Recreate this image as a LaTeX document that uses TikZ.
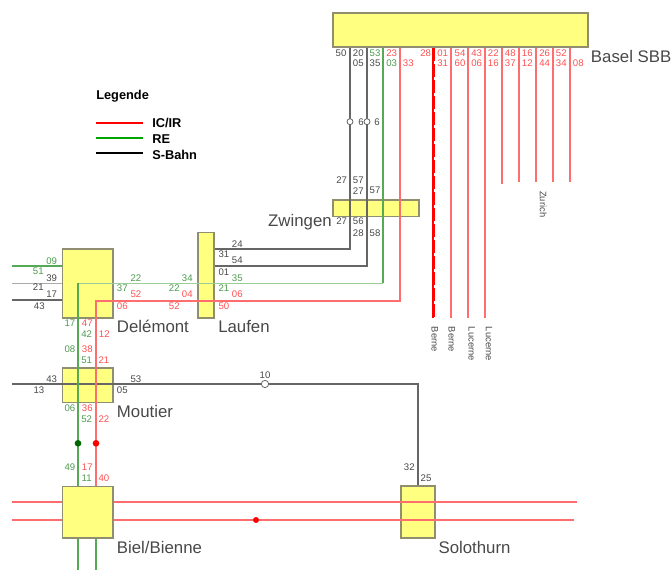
\documentclass[tikz,border=0pt]{standalone}
\usepackage{fontspec}
\setmainfont{Liberation Sans}
\usetikzlibrary{calc, positioning}
\definecolor{stationfill}{HTML}{FFFF80}
\definecolor{stationdraw}{HTML}{8F8F70}
\definecolor{lineblack}{HTML}{666666}
\definecolor{linegreen}{HTML}{55AA55}
\definecolor{linered}{HTML}{FF6E6E}
\definecolor{txtblack}{HTML}{484848}
\definecolor{txtgreen}{HTML}{4D9A4D}
\definecolor{txtred}{HTML}{FF5050}
\tikzset{
  station/.style={draw=stationdraw, fill=stationfill, line width=1.2pt, inner sep=0pt, anchor=north west},
  stationname/.style={font=\fontsize{12.6pt}{14pt}\selectfont, text=txtblack, inner sep=0pt},
  tracknum/.style={font=\fontsize{7.2pt}{8pt}\selectfont, inner sep=0pt},
  dirname/.style={font=\fontsize{7pt}{8pt}\selectfont, text=txtblack, inner sep=0pt, rotate=-90, anchor=west},
  legendname/.style={font=\bfseries\fontsize{9.6pt}{11pt}\selectfont, inner sep=0pt, anchor=west},
  tkblack/.style={draw=lineblack, line width=1.4pt},
  tkgreen/.style={draw=linegreen, line width=1.4pt},
  tkred/.style={draw=linered, line width=1.4pt},
  halt/.style={circle, draw=lineblack, fill=white, line width=0.6pt, minimum size=4.5pt, inner sep=0pt}
}
\begin{document}
\begin{tikzpicture}[x=0.75pt, y=-0.75pt]
  \useasboundingbox (0,0) rectangle (672,570);
  % stazioni sotto le linee
  \node[station, minimum width=255*0.75pt, minimum height=34*0.75pt] (basel) at (332.3,12.3) {};
  \node[station, minimum width=86*0.75pt, minimum height=16.7*0.75pt] (zwingen) at (332.3,199) {};
  \node[station, minimum width=50.6*0.75pt, minimum height=68.7*0.75pt] (delemont) at (61.7,248.3) {};
  \node[station, minimum width=16*0.75pt, minimum height=85.3*0.75pt] (laufen) at (197.3,231.7) {};
  \node[station, minimum width=50.6*0.75pt, minimum height=34.4*0.75pt] (moutier) at (61.7,367.3) {};
  \node[station, minimum width=33.7*0.75pt, minimum height=52*0.75pt] (solothurn) at (400.3,485.3) {};
  % punti liberi
  \coordinate (wa) at (12,266);
  \coordinate (wb) at (12,283);
  \coordinate (wc) at (12,300);
  \coordinate (wd) at (12,384);
  \coordinate (we) at (12,502);
  \coordinate (wf) at (12,520);
  \coordinate (ea) at (577,502);
  \coordinate (eb) at (574,520);
  \coordinate (sa) at (78,570);
  \coordinate (sb) at (96,570);
  % linee nere
  \draw[tkblack] (basel.south -| 350,0) -- (350,249) -- (laufen.east |- 0,249);
  \draw[tkblack] (basel.south -| 367,0) -- (367,266) -- (laufen.east |- 0,266);
  \draw[tkblack] (wd) -- (solothurn.north |- wd) -- (solothurn.north);
  \draw[tkblack] (wc) -- (delemont.west |- wc);
  \draw[draw=lineblack!55, line width=0.7pt] (wb) -- (delemont.west |- wb);
  % linee verdi
  \draw[tkgreen] (wa) -- (delemont.west |- wa);
  \draw[tkgreen, line width=1.1pt] (basel.south -| 383,0) -- (383,283);
  \draw[draw=linegreen!60, line width=0.7pt] (383,283) -- (78,283);
  \draw[tkgreen] (78,283) -- (78,486);
  \draw[tkgreen] (78,537) -- (sa);
  \draw[tkgreen] (96,537) -- (sb);
  % linee rosse
  \draw[tkred] (basel.south -| 400,0) -- (400,301) -- (96,301) -- (96,486);
  \draw[tkred] (we) -- (ea);
  \draw[tkred] (wf) -- (eb);
  \draw[tkred, draw=red, line width=1.2pt] (basel.south -| 433,0) -- (433,318);
  \draw[tkred, draw=red, line width=0.9pt, dash pattern=on 10pt off 2pt] (basel.south -| 434.5,0) -- (434.5,318);
  \draw[tkred] (basel.south -| 451,0) -- (451,318);
  \draw[tkred] (basel.south -| 468,0) -- (468,318);
  \draw[tkred] (basel.south -| 485,0) -- (485,318);
  \draw[tkred] (basel.south -| 502,0) -- (502,184);
  \draw[tkred] (basel.south -| 519,0) -- (519,182);
  \draw[tkred] (basel.south -| 536,0) -- (536,182);
  \draw[tkred] (basel.south -| 553,0) -- (553,182);
  \draw[tkred] (basel.south -| 570,0) -- (570,182);
  % stazione Biel sopra le linee
  \node[station, minimum width=50.6*0.75pt, minimum height=51.6*0.75pt] (biel) at (61.7,485.7) {};
  % fermate
  \node[halt] (hala) at (350,121.7) {};
  \node[halt] (halb) at (367,121.7) {};
  \node[halt, minimum size=5.5pt] (halc) at (265,384) {};
  \node[circle, fill=green!40!black, minimum size=5pt, inner sep=0pt] (dota) at (78,443.3) {};
  \node[circle, fill=red, minimum size=5pt, inner sep=0pt] (dotb) at (96,443.3) {};
  \node[circle, fill=red, minimum size=4.5pt, inner sep=0pt] (dotc) at (256,520) {};
  % nomi stazioni
  \node[stationname, anchor=west] (nbasel) at (590.7,56) {Basel SBB};
  \node[stationname, anchor=east] (nzwingen) at (332,222) {Zwingen};
  \node[stationname, anchor=west] (ndelemont) at (116.7,326.7) {Delémont};
  \node[stationname, anchor=west] (nlaufen) at (218,326.7) {Laufen};
  \node[stationname, anchor=west] (nmoutier) at (116.7,411.7) {Moutier};
  \node[stationname, anchor=west] (nbiel) at (116.7,547.3) {Biel/Bienne};
  \node[stationname, anchor=west] (nsolothurn) at (438.3,547.7) {Solothurn};
  % numeri neri
  \foreach \x/\y/\t [count=\i] in {341/53/50, 358.3/53/20, 358.3/63.3/05, 375/63.3/35, 361/121.7/6, 377/121.7/6,
      341.7/180/27, 358.3/180/57, 358.3/190.7/27, 375/190.7/57, 341.7/221.3/27, 358.3/221.3/56, 358.3/233.3/28, 375/233.3/58,
      51.7/277.7/39, 38.3/287.3/21, 51.7/294.3/17, 39.3/305.7/43,
      237.3/243.7/24, 224/254/31, 237.3/260.3/54, 224/271.7/01,
      51.7/379/43, 39/390/13, 136/379/53, 122.3/390/05, 265/375/10, 409.3/466.7/32, 426/478.3/25}
    \node[tracknum, text=txtblack] (kn\i) at (\x,\y) {\t};
  % numeri verdi
  \foreach \x/\y/\t [count=\i] in {375/53/53, 391.7/63.3/03,
      51.7/261/09, 38.3/271.7/51, 237.3/277.7/35, 224/288.3/21, 136/277.7/22, 122.3/287.7/37, 187.3/277.7/34, 174.3/287.7/22,
      70/323.3/17, 86.7/334.3/42, 70/349.3/08, 86.7/360/51, 70/408.3/06, 86.7/419/52, 70/466.7/49, 86.7/478.3/11}
    \node[tracknum, text=txtgreen] (gn\i) at (\x,\y) {\t};
  % numeri rossi
  \foreach \x/\y/\t [count=\i] in {391.7/53/23, 408.3/63.3/33, 425.7/53/28, 442.7/53/01, 442.7/63.3/31, 460/53/54, 460/63.3/60,
      476.7/53/43, 476.7/63.3/06, 493.3/53/22, 493.3/63.3/16, 510.3/53/48, 510.3/63.3/37, 527.3/53/16, 527.3/63.3/12,
      544.7/53/26, 544.7/63.3/44, 561.3/53/52, 561.3/63.3/34, 578.3/63.3/08,
      237.3/294.3/06, 224/305.7/50, 136/294.3/52, 122.3/305.7/06, 187.3/294.3/04, 174.3/305.7/52,
      87.3/323.3/47, 104.3/334.3/12, 87.3/349.3/38, 104/360/21, 87.3/408.3/36, 104/419/22, 87.3/466.7/17, 104/478.3/40}
    \node[tracknum, text=txtred] (rn\i) at (\x,\y) {\t};
  % direzioni
  \node[dirname] (da) at (434.7,326.7) {Berne};
  \node[dirname] (db) at (451.7,326.7) {Berne};
  \node[dirname] (dc) at (471.7,326.7) {Lucerne};
  \node[dirname] (dd) at (489,326.7) {Lucerne};
  \node[dirname] (de) at (543.3,191) {Zurich};
  % legenda
  \node[legendname] (legende) at (96,96) {Legende};
  \coordinate (lra) at (96,123);
  \coordinate (lga) at (96,138);
  \coordinate (lba) at (96,153);
  \node[legendname] (lred) at (152,123) {IC/IR};
  \node[legendname] (lgreen) at (152,139) {RE};
  \node[legendname] (lblack) at (152,155) {S-Bahn};
  \draw[red, line width=1.4pt] (lra) -- (143,123);
  \draw[green!65!black, line width=1.4pt] (lga) -- (143,138);
  \draw[black, line width=1.4pt] (lba) -- (143,153);
\end{tikzpicture}
\end{document}
